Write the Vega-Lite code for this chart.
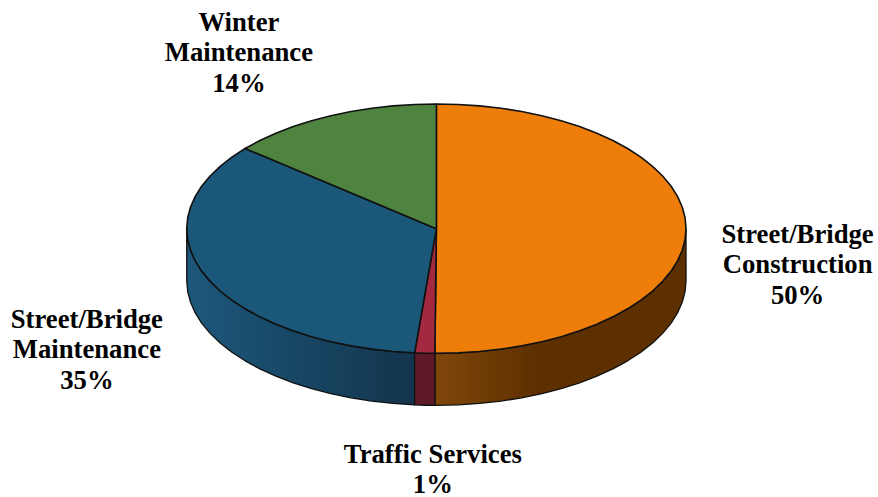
{
  "$schema": "https://vega.github.io/schema/vega-lite/v6.json",
  "width": 878, "height": 497, "padding": 0,
  "autosize": {"type": "none"},
  "background": "white",
  "config": {"view": {"stroke": null}},
  "datasets": {
    "wall": [
      {"slice":"Street/Bridge Construction","seq":1,"x":1,"y":0},{"slice":"Street/Bridge Construction","seq":2,"x":0.9962,"y":-0.0872},{"slice":"Street/Bridge Construction","seq":3,"x":0.9848,"y":-0.1736},{"slice":"Street/Bridge Construction","seq":4,"x":0.9659,"y":-0.2588},{"slice":"Street/Bridge Construction","seq":5,"x":0.9397,"y":-0.342},{"slice":"Street/Bridge Construction","seq":6,"x":0.9063,"y":-0.4226},{"slice":"Street/Bridge Construction","seq":7,"x":0.866,"y":-0.5},{"slice":"Street/Bridge Construction","seq":8,"x":0.8192,"y":-0.5736},{"slice":"Street/Bridge Construction","seq":9,"x":0.766,"y":-0.6428},{"slice":"Street/Bridge Construction","seq":10,"x":0.7071,"y":-0.7071},{"slice":"Street/Bridge Construction","seq":11,"x":0.6428,"y":-0.766},{"slice":"Street/Bridge Construction","seq":12,"x":0.5736,"y":-0.8192},{"slice":"Street/Bridge Construction","seq":13,"x":0.5,"y":-0.866},{"slice":"Street/Bridge Construction","seq":14,"x":0.4226,"y":-0.9063},{"slice":"Street/Bridge Construction","seq":15,"x":0.342,"y":-0.9397},{"slice":"Street/Bridge Construction","seq":16,"x":0.2588,"y":-0.9659},{"slice":"Street/Bridge Construction","seq":17,"x":0.1736,"y":-0.9848},{"slice":"Street/Bridge Construction","seq":18,"x":0.0872,"y":-0.9962},{"slice":"Street/Bridge Construction","seq":19,"x":-0.006,"y":-1},
      {"slice":"Street/Bridge Construction","seq":20,"x":-0.006,"y":-1.417},{"slice":"Street/Bridge Construction","seq":21,"x":0.0872,"y":-1.4132},{"slice":"Street/Bridge Construction","seq":22,"x":0.1736,"y":-1.4018},{"slice":"Street/Bridge Construction","seq":23,"x":0.2588,"y":-1.3829},{"slice":"Street/Bridge Construction","seq":24,"x":0.342,"y":-1.3567},{"slice":"Street/Bridge Construction","seq":25,"x":0.4226,"y":-1.3233},{"slice":"Street/Bridge Construction","seq":26,"x":0.5,"y":-1.283},{"slice":"Street/Bridge Construction","seq":27,"x":0.5736,"y":-1.2362},{"slice":"Street/Bridge Construction","seq":28,"x":0.6428,"y":-1.183},{"slice":"Street/Bridge Construction","seq":29,"x":0.7071,"y":-1.1241},{"slice":"Street/Bridge Construction","seq":30,"x":0.766,"y":-1.0598},{"slice":"Street/Bridge Construction","seq":31,"x":0.8192,"y":-0.9906},{"slice":"Street/Bridge Construction","seq":32,"x":0.866,"y":-0.917},{"slice":"Street/Bridge Construction","seq":33,"x":0.9063,"y":-0.8396},{"slice":"Street/Bridge Construction","seq":34,"x":0.9397,"y":-0.759},{"slice":"Street/Bridge Construction","seq":35,"x":0.9659,"y":-0.6758},{"slice":"Street/Bridge Construction","seq":36,"x":0.9848,"y":-0.5906},{"slice":"Street/Bridge Construction","seq":37,"x":0.9962,"y":-0.5042},{"slice":"Street/Bridge Construction","seq":38,"x":1,"y":-0.417},{"slice":"Street/Bridge Construction","seq":39,"x":1,"y":0},
      {"slice":"Traffic Services","seq":1,"x":-0.006,"y":-1},{"slice":"Traffic Services","seq":2,"x":-0.045,"y":-0.999},{"slice":"Traffic Services","seq":3,"x":-0.0872,"y":-0.9962},{"slice":"Traffic Services","seq":4,"x":-0.0872,"y":-1.4132},{"slice":"Traffic Services","seq":5,"x":-0.045,"y":-1.416},{"slice":"Traffic Services","seq":6,"x":-0.006,"y":-1.417},{"slice":"Traffic Services","seq":7,"x":-0.006,"y":-1},
      {"slice":"Street/Bridge Maintenance","seq":1,"x":-0.0872,"y":-0.9962},{"slice":"Street/Bridge Maintenance","seq":2,"x":-0.1736,"y":-0.9848},{"slice":"Street/Bridge Maintenance","seq":3,"x":-0.2588,"y":-0.9659},{"slice":"Street/Bridge Maintenance","seq":4,"x":-0.342,"y":-0.9397},{"slice":"Street/Bridge Maintenance","seq":5,"x":-0.4226,"y":-0.9063},{"slice":"Street/Bridge Maintenance","seq":6,"x":-0.5,"y":-0.866},{"slice":"Street/Bridge Maintenance","seq":7,"x":-0.5736,"y":-0.8192},{"slice":"Street/Bridge Maintenance","seq":8,"x":-0.6428,"y":-0.766},{"slice":"Street/Bridge Maintenance","seq":9,"x":-0.7071,"y":-0.7071},{"slice":"Street/Bridge Maintenance","seq":10,"x":-0.766,"y":-0.6428},{"slice":"Street/Bridge Maintenance","seq":11,"x":-0.8192,"y":-0.5736},{"slice":"Street/Bridge Maintenance","seq":12,"x":-0.866,"y":-0.5},{"slice":"Street/Bridge Maintenance","seq":13,"x":-0.9063,"y":-0.4226},{"slice":"Street/Bridge Maintenance","seq":14,"x":-0.9397,"y":-0.342},{"slice":"Street/Bridge Maintenance","seq":15,"x":-0.9659,"y":-0.2588},{"slice":"Street/Bridge Maintenance","seq":16,"x":-0.9848,"y":-0.1736},{"slice":"Street/Bridge Maintenance","seq":17,"x":-0.9962,"y":-0.0872},{"slice":"Street/Bridge Maintenance","seq":18,"x":-1,"y":0},
      {"slice":"Street/Bridge Maintenance","seq":19,"x":-1,"y":-0.417},{"slice":"Street/Bridge Maintenance","seq":20,"x":-0.9962,"y":-0.5042},{"slice":"Street/Bridge Maintenance","seq":21,"x":-0.9848,"y":-0.5906},{"slice":"Street/Bridge Maintenance","seq":22,"x":-0.9659,"y":-0.6758},{"slice":"Street/Bridge Maintenance","seq":23,"x":-0.9397,"y":-0.759},{"slice":"Street/Bridge Maintenance","seq":24,"x":-0.9063,"y":-0.8396},{"slice":"Street/Bridge Maintenance","seq":25,"x":-0.866,"y":-0.917},{"slice":"Street/Bridge Maintenance","seq":26,"x":-0.8192,"y":-0.9906},{"slice":"Street/Bridge Maintenance","seq":27,"x":-0.766,"y":-1.0598},{"slice":"Street/Bridge Maintenance","seq":28,"x":-0.7071,"y":-1.1241},{"slice":"Street/Bridge Maintenance","seq":29,"x":-0.6428,"y":-1.183},{"slice":"Street/Bridge Maintenance","seq":30,"x":-0.5736,"y":-1.2362},{"slice":"Street/Bridge Maintenance","seq":31,"x":-0.5,"y":-1.283},{"slice":"Street/Bridge Maintenance","seq":32,"x":-0.4226,"y":-1.3233},{"slice":"Street/Bridge Maintenance","seq":33,"x":-0.342,"y":-1.3567},{"slice":"Street/Bridge Maintenance","seq":34,"x":-0.2588,"y":-1.3829},{"slice":"Street/Bridge Maintenance","seq":35,"x":-0.1736,"y":-1.4018},{"slice":"Street/Bridge Maintenance","seq":36,"x":-0.0872,"y":-1.4132},{"slice":"Street/Bridge Maintenance","seq":37,"x":-0.0872,"y":-0.9962}
    ],
    "face": [
      {"slice":"Street/Bridge Construction","seq":0,"x":0,"y":0},{"slice":"Street/Bridge Construction","seq":1,"x":0,"y":1},{"slice":"Street/Bridge Construction","seq":2,"x":0.0872,"y":0.9962},{"slice":"Street/Bridge Construction","seq":3,"x":0.1736,"y":0.9848},{"slice":"Street/Bridge Construction","seq":4,"x":0.2588,"y":0.9659},{"slice":"Street/Bridge Construction","seq":5,"x":0.342,"y":0.9397},{"slice":"Street/Bridge Construction","seq":6,"x":0.4226,"y":0.9063},{"slice":"Street/Bridge Construction","seq":7,"x":0.5,"y":0.866},{"slice":"Street/Bridge Construction","seq":8,"x":0.5736,"y":0.8192},{"slice":"Street/Bridge Construction","seq":9,"x":0.6428,"y":0.766},{"slice":"Street/Bridge Construction","seq":10,"x":0.7071,"y":0.7071},{"slice":"Street/Bridge Construction","seq":11,"x":0.766,"y":0.6428},{"slice":"Street/Bridge Construction","seq":12,"x":0.8192,"y":0.5736},{"slice":"Street/Bridge Construction","seq":13,"x":0.866,"y":0.5},{"slice":"Street/Bridge Construction","seq":14,"x":0.9063,"y":0.4226},{"slice":"Street/Bridge Construction","seq":15,"x":0.9397,"y":0.342},{"slice":"Street/Bridge Construction","seq":16,"x":0.9659,"y":0.2588},{"slice":"Street/Bridge Construction","seq":17,"x":0.9848,"y":0.1736},{"slice":"Street/Bridge Construction","seq":18,"x":0.9962,"y":0.0872},{"slice":"Street/Bridge Construction","seq":19,"x":1,"y":0},{"slice":"Street/Bridge Construction","seq":20,"x":0.9962,"y":-0.0872},{"slice":"Street/Bridge Construction","seq":21,"x":0.9848,"y":-0.1736},{"slice":"Street/Bridge Construction","seq":22,"x":0.9659,"y":-0.2588},{"slice":"Street/Bridge Construction","seq":23,"x":0.9397,"y":-0.342},{"slice":"Street/Bridge Construction","seq":24,"x":0.9063,"y":-0.4226},{"slice":"Street/Bridge Construction","seq":25,"x":0.866,"y":-0.5},{"slice":"Street/Bridge Construction","seq":26,"x":0.8192,"y":-0.5736},{"slice":"Street/Bridge Construction","seq":27,"x":0.766,"y":-0.6428},{"slice":"Street/Bridge Construction","seq":28,"x":0.7071,"y":-0.7071},{"slice":"Street/Bridge Construction","seq":29,"x":0.6428,"y":-0.766},{"slice":"Street/Bridge Construction","seq":30,"x":0.5736,"y":-0.8192},{"slice":"Street/Bridge Construction","seq":31,"x":0.5,"y":-0.866},{"slice":"Street/Bridge Construction","seq":32,"x":0.4226,"y":-0.9063},{"slice":"Street/Bridge Construction","seq":33,"x":0.342,"y":-0.9397},{"slice":"Street/Bridge Construction","seq":34,"x":0.2588,"y":-0.9659},{"slice":"Street/Bridge Construction","seq":35,"x":0.1736,"y":-0.9848},{"slice":"Street/Bridge Construction","seq":36,"x":0.0872,"y":-0.9962},{"slice":"Street/Bridge Construction","seq":37,"x":-0.006,"y":-1},{"slice":"Street/Bridge Construction","seq":38,"x":0,"y":0},
      {"slice":"Traffic Services","seq":0,"x":0,"y":0},{"slice":"Traffic Services","seq":1,"x":-0.006,"y":-1},{"slice":"Traffic Services","seq":2,"x":-0.045,"y":-0.999},{"slice":"Traffic Services","seq":3,"x":-0.0872,"y":-0.9962},{"slice":"Traffic Services","seq":4,"x":0,"y":0},
      {"slice":"Street/Bridge Maintenance","seq":0,"x":0,"y":0},{"slice":"Street/Bridge Maintenance","seq":1,"x":-0.0872,"y":-0.9962},{"slice":"Street/Bridge Maintenance","seq":2,"x":-0.1736,"y":-0.9848},{"slice":"Street/Bridge Maintenance","seq":3,"x":-0.2588,"y":-0.9659},{"slice":"Street/Bridge Maintenance","seq":4,"x":-0.342,"y":-0.9397},{"slice":"Street/Bridge Maintenance","seq":5,"x":-0.4226,"y":-0.9063},{"slice":"Street/Bridge Maintenance","seq":6,"x":-0.5,"y":-0.866},{"slice":"Street/Bridge Maintenance","seq":7,"x":-0.5736,"y":-0.8192},{"slice":"Street/Bridge Maintenance","seq":8,"x":-0.6428,"y":-0.766},{"slice":"Street/Bridge Maintenance","seq":9,"x":-0.7071,"y":-0.7071},{"slice":"Street/Bridge Maintenance","seq":10,"x":-0.766,"y":-0.6428},{"slice":"Street/Bridge Maintenance","seq":11,"x":-0.8192,"y":-0.5736},{"slice":"Street/Bridge Maintenance","seq":12,"x":-0.866,"y":-0.5},{"slice":"Street/Bridge Maintenance","seq":13,"x":-0.9063,"y":-0.4226},{"slice":"Street/Bridge Maintenance","seq":14,"x":-0.9397,"y":-0.342},{"slice":"Street/Bridge Maintenance","seq":15,"x":-0.9659,"y":-0.2588},{"slice":"Street/Bridge Maintenance","seq":16,"x":-0.9848,"y":-0.1736},{"slice":"Street/Bridge Maintenance","seq":17,"x":-0.9962,"y":-0.0872},{"slice":"Street/Bridge Maintenance","seq":18,"x":-1,"y":0},{"slice":"Street/Bridge Maintenance","seq":19,"x":-0.9962,"y":0.0872},{"slice":"Street/Bridge Maintenance","seq":20,"x":-0.9848,"y":0.1736},{"slice":"Street/Bridge Maintenance","seq":21,"x":-0.9659,"y":0.2588},{"slice":"Street/Bridge Maintenance","seq":22,"x":-0.9397,"y":0.342},{"slice":"Street/Bridge Maintenance","seq":23,"x":-0.9063,"y":0.4226},{"slice":"Street/Bridge Maintenance","seq":24,"x":-0.866,"y":0.5},{"slice":"Street/Bridge Maintenance","seq":25,"x":-0.8192,"y":0.5736},{"slice":"Street/Bridge Maintenance","seq":26,"x":-0.766,"y":0.6428},{"slice":"Street/Bridge Maintenance","seq":27,"x":0,"y":0},
      {"slice":"Winter Maintenance","seq":0,"x":0,"y":0},{"slice":"Winter Maintenance","seq":1,"x":-0.766,"y":0.6428},{"slice":"Winter Maintenance","seq":2,"x":-0.7071,"y":0.7071},{"slice":"Winter Maintenance","seq":3,"x":-0.6428,"y":0.766},{"slice":"Winter Maintenance","seq":4,"x":-0.5736,"y":0.8192},{"slice":"Winter Maintenance","seq":5,"x":-0.5,"y":0.866},{"slice":"Winter Maintenance","seq":6,"x":-0.4226,"y":0.9063},{"slice":"Winter Maintenance","seq":7,"x":-0.342,"y":0.9397},{"slice":"Winter Maintenance","seq":8,"x":-0.2588,"y":0.9659},{"slice":"Winter Maintenance","seq":9,"x":-0.1736,"y":0.9848},{"slice":"Winter Maintenance","seq":10,"x":-0.0872,"y":0.9962},{"slice":"Winter Maintenance","seq":11,"x":0,"y":1},{"slice":"Winter Maintenance","seq":12,"x":0,"y":0}
    ],
    "captions": [
      {"text":"Winter\nMaintenance\n14%","x":-0.791,"y":1.658},
      {"text":"Street/Bridge\nConstruction\n50%","x":1.447,"y":-0.0425},
      {"text":"Street/Bridge\nMaintenance\n35%","x":-1.4,"y":-0.724},
      {"text":"Traffic Services\n1%","x":-0.014,"y":-1.806}
    ]
  },
  "encoding": {
    "x": {"field": "x", "type": "quantitative", "axis": null, "scale": {"domain": [-1.748, 1.769], "nice": false, "zero": false}},
    "y": {"field": "y", "type": "quantitative", "axis": null, "scale": {"domain": [-2.152, 1.834], "nice": false, "zero": false}}
  },
  "layer": [
    {
      "data": {"name": "wall"},
      "transform": [{"filter": "datum.slice === 'Street/Bridge Construction'"}],
      "mark": {"type": "line", "stroke": "#111111", "strokeWidth": 1.3, "strokeJoin": "round",
        "fill": {"gradient": "linear", "x1": 0, "y1": 0, "x2": 1, "y2": 0,
          "stops": [{"offset": 0, "color": "#80470A"}, {"offset": 0.4, "color": "#5E3000"}, {"offset": 1, "color": "#5E3000"}]}},
      "encoding": {"order": {"field": "seq", "type": "quantitative"}}
    },
    {
      "data": {"name": "wall"},
      "transform": [{"filter": "datum.slice === 'Street/Bridge Maintenance'"}],
      "mark": {"type": "line", "stroke": "#111111", "strokeWidth": 1.3, "strokeJoin": "round",
        "fill": {"gradient": "linear", "x1": 0, "y1": 0, "x2": 1, "y2": 0,
          "stops": [{"offset": 0, "color": "#1C587B"}, {"offset": 1, "color": "#13344C"}]}},
      "encoding": {"order": {"field": "seq", "type": "quantitative"}}
    },
    {
      "data": {"name": "wall"},
      "transform": [{"filter": "datum.slice === 'Traffic Services'"}],
      "mark": {"type": "line", "stroke": "#111111", "strokeWidth": 1.3, "strokeJoin": "round", "fill": "#5F1A28"},
      "encoding": {"order": {"field": "seq", "type": "quantitative"}}
    },
    {
      "data": {"name": "face"},
      "mark": {"type": "line", "stroke": "#111111", "strokeWidth": 1.6, "strokeJoin": "round"},
      "encoding": {
        "detail": {"field": "slice"},
        "order": {"field": "seq", "type": "quantitative"},
        "fill": {
          "field": "slice", "type": "nominal", "legend": null,
          "scale": {
            "domain": ["Street/Bridge Construction", "Traffic Services", "Street/Bridge Maintenance", "Winter Maintenance"],
            "range": ["#EE7D0A", "#A2293F", "#1B5779", "#4E8440"]
          }
        }
      }
    },
    {
      "data": {"name": "captions"},
      "mark": {"type": "text", "font": "Liberation Serif", "fontWeight": "bold", "fontSize": 26.7, "lineHeight": 30.5, "lineBreak": "\n", "align": "center", "baseline": "middle", "dy": 1, "color": "black"},
      "encoding": {"text": {"field": "text"}}
    }
  ]
}
